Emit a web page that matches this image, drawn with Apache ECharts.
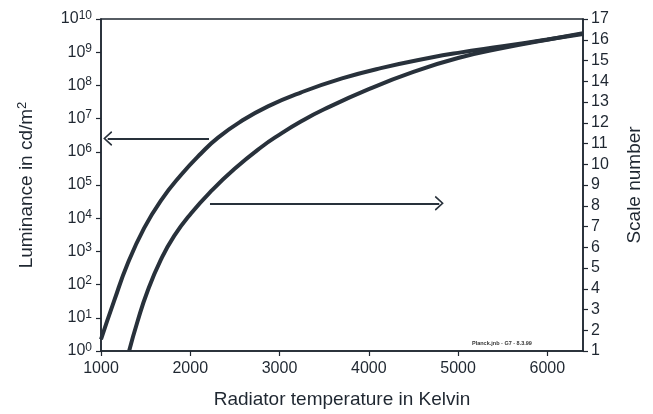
<!DOCTYPE html>
<html>
<head>
<meta charset="utf-8">
<script src="https://cdn.jsdelivr.net/npm/echarts@6/dist/echarts.min.js"></script>
<style>
html,body{margin:0;padding:0;background:#fff;}
#c{width:653px;height:414px;}
</style>
</head>
<body>
<div id="c"></div>
<script>
// Luminance curve (left, log axis): temperature in K, luminance in cd/m^2
var lumT = [1000, 1146, 1297, 1483, 1671, 1896, 2120, 2308, 2570, 2870, 3244, 3700, 4135, 4700, 5000, 5500, 6000, 6400];
var lumV = [2.24, 31.6, 417, 5010, 3.39e4, 2.0e5, 8.9e5, 2.63e6, 8.3e6, 2.34e7, 6.2e7, 1.62e8, 3.31e8, 6.9e8, 9.55e8, 1.51e9, 2.4e9, 3.55e9];
// Scale number curve (right axis)
var scaleT = [1315, 1409, 1521, 1671, 1820, 2008, 2233, 2494, 2794, 3000, 3244, 3500, 4000, 4500, 5000, 5500, 6000, 6400];
var scaleV = [1.0, 2.42, 3.88, 5.4, 6.55, 7.63, 8.7, 9.77, 10.82, 11.43, 12.07, 12.65, 13.62, 14.45, 15.12, 15.6, 16.0, 16.32];
// Pointer arrows: [from T, to T, level]
var arrowLeft = [2210, 1075, 2.5e6];
var arrowRight = [2221, 4790, 8.12];
var xTicks = [1000, 2000, 3000, 4000, 5000, 6000];
var footnote = 'Planck.jnb - G7 - 8.3.99';

var ink = '#1f2731';
var font = 'Liberation Sans';

function zip(a, b) { return a.map(function (v, i) { return [v, b[i]]; }); }

var chevron = 'path://M0,14 L10,0 L20,14 L18,15.5 L10,4 L2,15.5 Z';

var chart = echarts.init(document.getElementById('c'), null, {renderer: 'canvas'});
chart.setOption({
  animation: false,
  backgroundColor: '#fff',
  grid: {left: 101, right: 70, top: 19, bottom: 61, show: true, borderColor: ink, borderWidth: 1.5, backgroundColor: 'transparent'},
  textStyle: {fontFamily: font, color: ink},
  xAxis: {
    type: 'value', min: 1000, max: 6400, interval: 1000,
    name: 'Radiator temperature in Kelvin', nameLocation: 'middle', nameGap: 39,
    nameTextStyle: {fontSize: 19, color: ink, fontFamily: font},
    axisLine: {lineStyle: {color: ink, width: 1.5}},
    axisTick: {show: true, length: 5, lineStyle: {color: ink, width: 1.2}},
    axisLabel: {fontSize: 16, color: ink, margin: 10, showMaxLabel: false, fontFamily: font,
      formatter: function (v) { return xTicks.indexOf(v) >= 0 ? String(v) : ''; }},
    splitLine: {show: false}
  },
  yAxis: [{
    type: 'log', logBase: 10, min: 1, max: 1e10, interval: 1,
    name: '{a|Luminance in cd/m}{s|2}', nameLocation: 'middle', nameGap: 64, nameRotate: 90,
    nameTextStyle: {
      rich: {
        a: {fontSize: 19, color: ink, fontFamily: font},
        s: {fontSize: 13, color: ink, fontFamily: font, verticalAlign: 'bottom', padding: [0, 0, 8, 0]}
      }
    },
    axisLine: {show: true, lineStyle: {color: ink, width: 1.5}},
    axisTick: {show: true, length: 5, lineStyle: {color: ink, width: 1.2}},
    axisLabel: {
      margin: 9, color: ink,
      formatter: function (v) {
        var n = Math.round(Math.log10(v));
        return '{b|10}{s|' + n + '}';
      },
      rich: {
        b: {fontSize: 16, color: ink, fontFamily: font},
        s: {fontSize: 12, color: ink, fontFamily: font, verticalAlign: 'bottom', padding: [0, 0, 7, 0]}
      }
    },
    splitLine: {show: false}
  }, {
    type: 'value', min: 1, max: 17, interval: 1, position: 'right',
    name: 'Scale number', nameLocation: 'middle', nameGap: 42, nameRotate: 90,
    nameTextStyle: {fontSize: 19, color: ink, fontFamily: font},
    axisLine: {show: true, lineStyle: {color: ink, width: 1.5}},
    axisTick: {show: true, length: 5, lineStyle: {color: ink, width: 1.2}},
    axisLabel: {fontSize: 16, color: ink, margin: 8, fontFamily: font},
    splitLine: {show: false}
  }],
  series: [{
    type: 'line', yAxisIndex: 0, data: zip(lumT, lumV),
    smooth: 0.5, showSymbol: false,
    lineStyle: {color: '#28313b', width: 4},
    markLine: {
      silent: true, symbol: ['none', chevron], symbolSize: [15, 9],
      lineStyle: {color: '#28313b', width: 2, type: 'solid'},
      label: {show: false},
      data: [[{coord: [arrowLeft[0], arrowLeft[2]]}, {coord: [arrowLeft[1], arrowLeft[2]]}]]
    }
  }, {
    type: 'line', yAxisIndex: 1, data: zip(scaleT, scaleV),
    smooth: 0.5, showSymbol: false,
    lineStyle: {color: '#28313b', width: 4},
    markLine: {
      silent: true, symbol: ['none', chevron], symbolSize: [15, 9],
      lineStyle: {color: '#28313b', width: 2, type: 'solid'},
      label: {show: false},
      data: [[{coord: [arrowRight[0], arrowRight[2]]}, {coord: [arrowRight[1], arrowRight[2]]}]]
    }
  }],
  graphic: [{
    type: 'text', left: 472, top: 340,
    style: {text: footnote, fontSize: 5.5, fontWeight: 'bold', fill: '#333', fontFamily: font}
  }]
});
</script>
</body>
</html>
